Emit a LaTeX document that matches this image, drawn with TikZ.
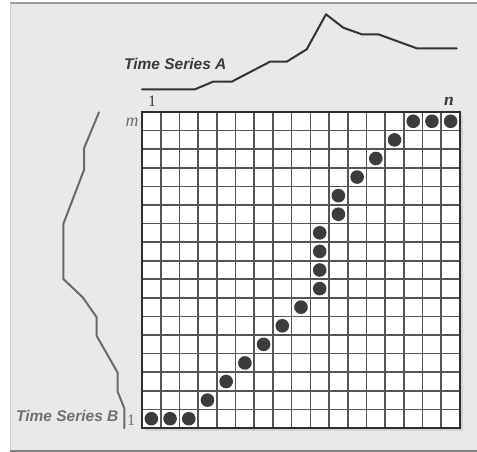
\documentclass[tikz,border=0pt]{standalone}
\usepackage{fontspec}
\setmainfont{Liberation Serif}
\setsansfont{Liberation Sans}
\definecolor{bgc}{HTML}{E9E9E9}
\definecolor{shadowc}{HTML}{D2D2D2}
\definecolor{gridc}{HTML}{555555}
\definecolor{borderc}{HTML}{2E2E2E}
\definecolor{dotc}{HTML}{3C3C3C}
\definecolor{seriesA}{HTML}{333333}
\definecolor{seriesB}{HTML}{6A6A6A}
\definecolor{labA}{HTML}{3A3A3A}
\definecolor{labB}{HTML}{707070}
\tikzset{
  gridline/.style={draw=gridc, line width=1.6pt},
  gridborder/.style={draw=borderc, line width=2.2pt},
  seriesline/.style={line width=2pt, line join=round, line cap=round},
  dotmark/.style={fill=dotc},
  tslabel/.style={font=\sffamily\bfseries\itshape\fontsize{15.5}{15.5}\selectfont, inner sep=0pt},
  axlabel/.style={font=\fontsize{16}{16}\selectfont, inner sep=0pt, anchor=base}
}
\begin{document}
\begin{tikzpicture}[x=1pt,y=-1pt]
\useasboundingbox (0,0) rectangle (477,452);
\fill[white] (0,0) rectangle (477,452);
\fill[bgc] (10,3) rectangle (477,451);
\draw[draw=gray!80, line width=1.2pt] (10,3) -- (477,3);
\draw[draw=gray!40, line width=0.8pt] (10,3) -- (10,451);
\draw[draw=gray, line width=1.6pt] (10,451) -- (477,451);
% grid
\fill[shadowc] (145,115) rectangle (463,431);
\fill[white] (142,112) rectangle (460,428);
\foreach \i in {1,...,16} {
  \draw[gridline] ({142+\i*318/17},112) -- ({142+\i*318/17},428);
  \draw[gridline] (142,{112+\i*316/17}) -- (460,{112+\i*316/17});
}
\draw[gridborder] (142,112) rectangle (460,428);
% warping path dots
\foreach \c/\r in {1/1,2/1,3/1,4/2,5/3,6/4,7/5,8/6,9/7,10/8,10/9,10/10,10/11,11/12,11/13,12/14,13/15,14/16,15/17,16/17,17/17} {
  \fill[dotmark] ({142+(\c-0.5)*318/17},{428-(\r-0.5)*316/17}) circle (6.8pt);
}
% time series A
\draw[seriesline, seriesA] (142,89.3) -- (195,89.3) -- (213,81.7) -- (231.7,81.7) -- (270,61.7) -- (286.7,61.7) -- (306.7,49.3) -- (326,14.3) -- (343.3,27.7) -- (361.7,34.3) -- (378.3,34.3) -- (416.7,48.3) -- (456.7,48.3);
% time series B
\draw[seriesline, seriesB] (99,112.3) -- (84,148.3) -- (84,170) -- (63.3,224) -- (63.3,279) -- (82.7,297.3) -- (96.7,317.3) -- (96.7,336) -- (117.7,372.7) -- (117.7,391.7) -- (124.3,408.3) -- (124.3,428.3);
% labels
\node[tslabel, text=labA, anchor=base west] (tsa) at (124,69.5) {Time Series A};
\node[tslabel, text=labB, anchor=base west] (tsb) at (16,421) {Time Series B};
\node[axlabel, text=labA] (one) at (152,106.5) {1};
\node[axlabel, text=labA, font=\bfseries\itshape\fontsize{17.5}{17.5}\selectfont] (n) at (449,105.5) {n};
\node[axlabel, text=labB, font=\itshape\fontsize{18}{18}\selectfont] (m) at (132,126.5) {m};
\node[axlabel, text=labB] (oneb) at (131,425.5) {1};
\end{tikzpicture}
\end{document}
